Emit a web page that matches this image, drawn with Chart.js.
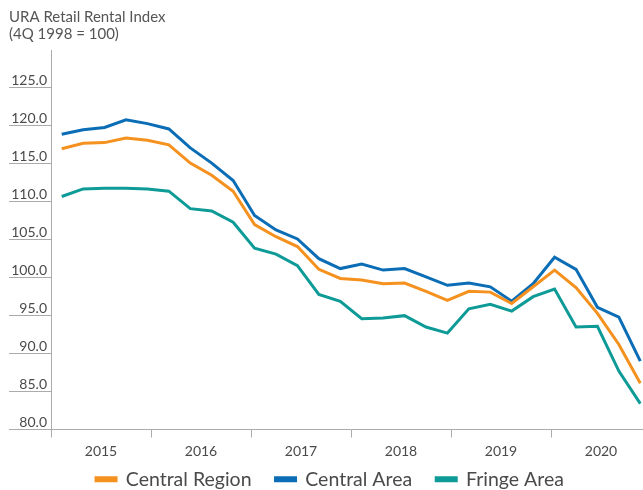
<!DOCTYPE html>
<html>
<head>
<meta charset="utf-8">
<script src="https://cdn.jsdelivr.net/npm/chart.js@4"></script>
<style>
  html, body { margin: 0; padding: 0; background: #fff; overflow: hidden; }
  #wrap { width: 643px; height: 490px; overflow: hidden; position: relative; }
  canvas { display: block; }
</style>
</head>
<body>
<div id="wrap">
  <canvas id="rentalChart" width="651" height="499"></canvas>
</div>
<script>
// Quarterly index values, 1Q14 - 4Q20
const quarters = [
  "1Q14", "2Q14", "3Q14", "4Q14", "1Q15", "2Q15", "3Q15", "4Q15",
  "1Q16", "2Q16", "3Q16", "4Q16", "1Q17", "2Q17", "3Q17", "4Q17",
  "1Q18", "2Q18", "3Q18", "4Q18", "1Q19", "2Q19", "3Q19", "4Q19",
  "1Q20", "2Q20", "3Q20", "4Q20"
];
const centralRegion = [
  117.0, 117.7, 117.8, 118.4, 118.1, 117.5, 115.1, 113.5,
  111.4, 107.0, 105.4, 104.1, 101.1, 99.9, 99.7, 99.2,
  99.3, 98.2, 97.0, 98.2, 98.1, 96.6, 98.8, 101.0,
  98.7, 95.3, 91.2, 86.1
];
const centralArea = [
  118.9, 119.5, 119.8, 120.8, 120.3, 119.6, 117.1, 115.1,
  112.8, 108.2, 106.3, 105.1, 102.5, 101.2, 101.8, 101.0,
  101.2, 100.1, 99.0, 99.3, 98.8, 96.9, 99.2, 102.7,
  101.1, 96.1, 94.8, 89.0
];
const fringeArea = [
  110.7, 111.7, 111.8, 111.8, 111.7, 111.4, 109.1, 108.8,
  107.3, 103.9, 103.1, 101.6, 97.8, 96.9, 94.6, 94.7,
  95.0, 93.5, 92.7, 95.9, 96.5, 95.6, 97.5, 98.5,
  93.5, 93.6, 87.7, 83.4
];
const years = ["2015", "2016", "2017", "2018", "2019", "2020"];
const yTicks = [80, 85, 90, 95, 100, 105, 110, 115, 120, 125];

const axisGrey = "#ababab";
const textGrey = "#4a4a4a";
const font = "Lato, 'Open Sans', sans-serif";

function series(label, values, color) {
  return {
    label: label,
    data: values,
    borderColor: color,
    backgroundColor: color,
    borderWidth: 3,
    pointRadius: 0,
    tension: 0,
    xAxisID: "x",
    yAxisID: "y"
  };
}

const ctx = document.getElementById("rentalChart").getContext("2d");
const rentalChart = new Chart(ctx, {
  type: "line",
  data: {
    labels: quarters,
    datasets: [
      series("Central Region", centralRegion, "#f5911e"),
      series("Central Area", centralArea, "#0a6db5"),
      series("Fringe Area", fringeArea, "#0e9b97")
    ]
  },
  options: {
    responsive: false,
    animation: false,
    layout: { padding: { left: 9, top: 9, right: 0, bottom: 0 } },
    plugins: {
      title: {
        display: true,
        text: ["URA Retail Rental Index", "(4Q 1998 = 100)"],
        align: "start",
        color: "#555",
        font: { family: font, size: 15, weight: "normal", lineHeight: 1.1 },
        padding: { top: 0, bottom: 8 }
      },
      legend: {
        position: "bottom",
        labels: {
          boxWidth: 20,
          boxHeight: 3,
          padding: 24,
          color: textGrey,
          font: { family: font, size: 19.5 }
        }
      },
      tooltip: { enabled: false }
    },
    scales: {
      x: {
        type: "category",
        display: false,
        offset: true
      },
      yr: {
        type: "linear",
        position: "bottom",
        min: 0,
        max: years.length,
        afterBuildTicks: (scale) => {
          const t = [];
          for (let i = 0; i <= years.length * 2; i++) t.push({ value: i / 2 });
          scale.ticks = t;
        },
        // short axis box; mirrored labels are not clipped to it,
        // so a negative padding pushes them down below the tick marks
        afterFit: (scale) => { scale.height = 16; },
        ticks: {
          autoSkip: false,
          maxRotation: 0,
          mirror: true,
          padding: -30,
          color: textGrey,
          font: { family: font, size: 14 },
          callback: (v) => (v % 1 === 0.5 ? years[Math.floor(v)] : "")
        },
        grid: {
          drawOnChartArea: false,
          tickLength: 8,
          color: (c) => (c.tick && c.tick.value % 1 === 0 ? axisGrey : "transparent")
        },
        border: { color: axisGrey }
      },
      y: {
        min: 80,
        max: 130,
        afterBuildTicks: (scale) => {
          scale.ticks = yTicks.map((v) => ({ value: v }));
        },
        afterFit: (scale) => { scale.width = 42; },
        ticks: {
          padding: -38,
          labelOffset: -7,
          color: textGrey,
          font: { family: font, size: 14 },
          callback: (v) => v.toFixed(1)
        },
        grid: {
          drawOnChartArea: false,
          tickLength: 42,
          color: axisGrey
        },
        border: { color: axisGrey }
      }
    }
  }
});
</script>
</body>
</html>
